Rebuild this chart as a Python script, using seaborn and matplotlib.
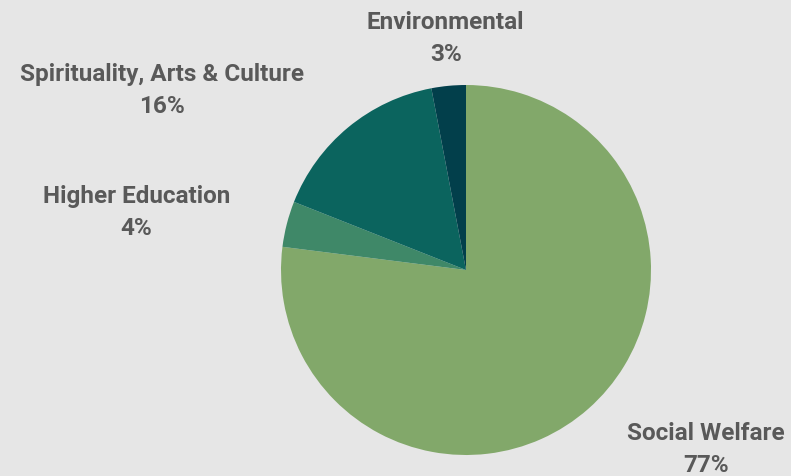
import matplotlib
matplotlib.use('Agg')
import matplotlib.pyplot as plt
import seaborn as sns

categories = ['Social Welfare', 'Higher Education', 'Spirituality, Arts & Culture', 'Environmental']
shares = [77, 4, 16, 3]
colors = ['#82A86A', '#3F8868', '#0B645E', '#023F4B']

# label centres in radius units relative to the pie centre
label_pos = [(1.295, -0.965), (-1.78, 0.315), (-1.645, 0.975), (-0.11, 1.255)]

sns.set_theme(style='white', rc={'figure.facecolor': '#E6E6E6', 'axes.facecolor': '#E6E6E6'})
plt.rcParams['font.family'] = ['Roboto', 'DejaVu Sans']

fig = plt.figure(figsize=(7.91, 4.77), dpi=100)
ax = fig.add_axes([0, 0, 1, 1])

ax.pie(shares, colors=colors, startangle=90, counterclock=False,
       wedgeprops={'linewidth': 0}, radius=1)

for name, val, (x, y) in zip(categories, shares, label_pos):
    ax.text(x, y, f'{name}\n{val}%', ha='center', va='center',
            fontsize=17.5, fontweight='bold', color='#595959', linespacing=1.5)

ax.set_xlim(-466 / 185, (791 - 466) / 185)
ax.set_ylim(-206 / 185, 271 / 185)
ax.set_aspect('equal')
ax.axis('off')

fig.savefig('out.png', dpi=100, facecolor=fig.get_facecolor())
